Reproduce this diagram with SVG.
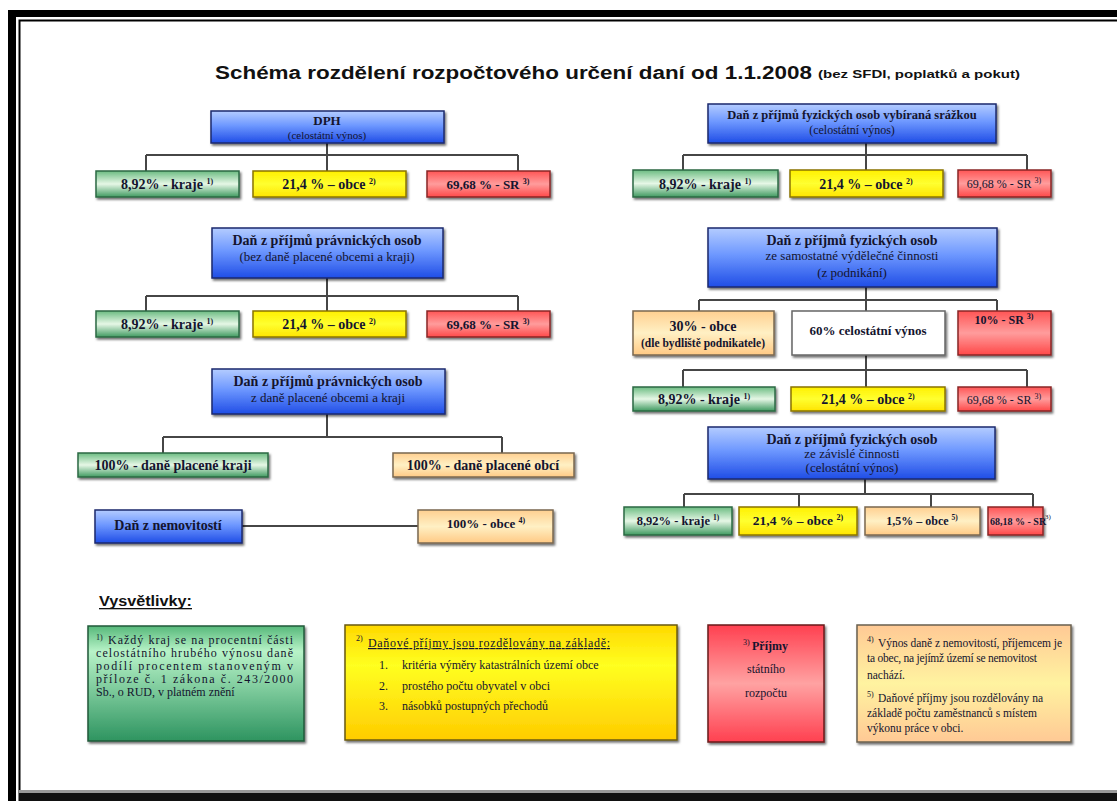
<svg xmlns="http://www.w3.org/2000/svg" width="1117" height="801" viewBox="0 0 1117 801">
<style>
.t{font-family:"Liberation Serif","Times New Roman",serif;fill:#14142e}
.b{font-weight:bold}
.m{text-anchor:middle}
.h{font-family:"Liberation Sans",Arial,sans-serif;font-weight:bold;fill:#111}
.cn{fill:none;stroke:#464646;stroke-width:2}
.blue{fill:url(#gBlue);stroke:#1b2a6e;stroke-width:1.5}
.green{fill:url(#gGreen);stroke:#2b6a44;stroke-width:1.5}
.yel{fill:url(#gYel);stroke:#8a7400;stroke-width:1.5}
.red{fill:url(#gRed);stroke:#8a2626;stroke-width:1.5}
.org{fill:url(#gOrg);stroke:#7a6850;stroke-width:1.5}
.wht{fill:#fff;stroke:#666;stroke-width:1.5}
.sh{filter:url(#ds)}
</style>
<defs>
<filter id="ds" x="-10%" y="-20%" width="125%" height="150%"><feDropShadow dx="1.5" dy="2" stdDeviation="0.8" flood-color="#000" flood-opacity="0.55"/></filter>
<linearGradient id="gBlue" x1="0" y1="0" x2="0" y2="1"><stop offset="0" stop-color="#b4ccff"/><stop offset="0.45" stop-color="#6e98ff"/><stop offset="1" stop-color="#1f4de6"/></linearGradient>
<linearGradient id="gGreen" x1="0" y1="0" x2="0" y2="1"><stop offset="0" stop-color="#6cbc82"/><stop offset="0.5" stop-color="#e6f7e6"/><stop offset="1" stop-color="#3f9a60"/></linearGradient>
<linearGradient id="gYel" x1="0" y1="0" x2="0" y2="1"><stop offset="0" stop-color="#fff000"/><stop offset="0.5" stop-color="#ffff30"/><stop offset="1" stop-color="#ffe400"/></linearGradient>
<linearGradient id="gRed" x1="0" y1="0" x2="0" y2="1"><stop offset="0" stop-color="#ff5555"/><stop offset="0.5" stop-color="#ff9c9c"/><stop offset="1" stop-color="#ff4848"/></linearGradient>
<linearGradient id="gOrg" x1="0" y1="0" x2="0" y2="1"><stop offset="0" stop-color="#ffcf90"/><stop offset="0.5" stop-color="#fff0c4"/><stop offset="1" stop-color="#ffc984"/></linearGradient>
<linearGradient id="lGreen" x1="0" y1="0" x2="0" y2="1"><stop offset="0" stop-color="#56b87a"/><stop offset="0.22" stop-color="#b8f3c8"/><stop offset="1" stop-color="#2e9460"/></linearGradient>
<linearGradient id="lYel" x1="0" y1="0" x2="0" y2="1"><stop offset="0" stop-color="#ffd800"/><stop offset="0.35" stop-color="#ffff20"/><stop offset="1" stop-color="#ffcc00"/></linearGradient>
<linearGradient id="lRed" x1="0" y1="0" x2="0" y2="1"><stop offset="0" stop-color="#ff4050"/><stop offset="0.5" stop-color="#ffa2a2"/><stop offset="1" stop-color="#ff4050"/></linearGradient>
<linearGradient id="lOrg" x1="0" y1="0" x2="0" y2="1"><stop offset="0" stop-color="#ffc995"/><stop offset="0.5" stop-color="#fff3a0"/><stop offset="1" stop-color="#ffc995"/></linearGradient>
</defs>

<rect width="1117" height="801" fill="#fff"/>
<g id="frame">
<rect x="8" y="10" width="1109" height="7" fill="#000"/>
<rect x="8" y="10" width="8" height="791" fill="#000"/>
<path d="M19.5 801 V20.5 H1117" fill="none" stroke="#000" stroke-width="2"/>
<rect x="19" y="790" width="1098" height="3" fill="#999"/>
<rect x="19" y="793" width="1098" height="8" fill="#111"/>
</g>

<g id="title">
<text class="h" x="215" y="79" font-size="18" textLength="597" lengthAdjust="spacingAndGlyphs">Schéma rozdělení rozpočtového určení daní od 1.1.2008</text>
<text class="h" x="818" y="78" font-size="10" font-weight="normal" textLength="202" lengthAdjust="spacingAndGlyphs">(bez SFDI, poplatků a pokut)</text>
</g>

<g id="connectors">
<path class="cn" d="M327 143V155M146 155H518M146 155V171M327 155V171M518 155V171"/>
<path class="cn" d="M866 143V155M683 155H1027M683 155V170M866 155V170M1027 155V170"/>
<path class="cn" d="M327 278V296M146 296H518M146 296V311M327 296V311M518 296V311"/>
<path class="cn" d="M866 287V300M699 300H997M699 300V311M866 300V311M997 300V311"/>
<path class="cn" d="M866 355V370M683 370H1027M683 370V387M866 370V387M1027 370V387"/>
<path class="cn" d="M327 414V437M163 437H502M163 437V453M502 437V453"/>
<path class="cn" d="M242 526H418"/>
<path class="cn" d="M865 479V494M684 494H1033M684 494V507M799 494V507M931 494V507M1033 494V507"/>
</g>

<g id="dph">
<rect class="blue sh" x="211" y="111" width="233" height="32"/>
<text class="t b m" x="327" y="125" font-size="13">DPH</text>
<text class="t m" x="327" y="139" font-size="11">(celostátní výnos)</text>
</g>
<g id="dph-kraje"><rect class="green sh" x="96" y="171" width="143" height="26"/>
<text class="t b m" x="167" y="189" font-size="14">8,92% - kraje <tspan font-size="8" dy="-5">1)</tspan></text></g>
<g id="dph-obce"><rect class="yel sh" x="253" y="171" width="153" height="26"/>
<text class="t b m" x="329" y="189" font-size="14">21,4 % – obce <tspan font-size="8" dy="-5">2)</tspan></text></g>
<g id="dph-sr"><rect class="red sh" x="427" y="171" width="123" height="26"/>
<text class="t b m" x="488" y="189" font-size="13">69,68 % - SR <tspan font-size="8" dy="-5">3)</tspan></text></g>

<g id="fo-srazka">
<rect class="blue sh" x="708" y="104" width="288" height="39"/>
<text class="t b m" x="852" y="119" font-size="12.5">Daň z příjmů fyzických osob vybíraná srážkou</text>
<text class="t m" x="852" y="134" font-size="12">(celostátní výnos)</text>
</g>
<g id="fos-kraje"><rect class="green sh" x="633" y="170" width="145" height="27"/>
<text class="t b m" x="705" y="189" font-size="14">8,92% - kraje <tspan font-size="8" dy="-5">1)</tspan></text></g>
<g id="fos-obce"><rect class="yel sh" x="790" y="170" width="153" height="27"/>
<text class="t b m" x="866" y="189" font-size="14">21,4 % – obce <tspan font-size="8" dy="-5">2)</tspan></text></g>
<g id="fos-sr"><rect class="red sh" x="958" y="170" width="93" height="27"/>
<text class="t m" x="1004" y="188" font-size="12">69,68 % - SR <tspan font-size="8" dy="-5">3)</tspan></text></g>

<g id="po-bez">
<rect class="blue sh" x="212" y="228" width="231" height="50"/>
<text class="t b m" x="327" y="245" font-size="14">Daň z příjmů právnických osob</text>
<text class="t m" x="327" y="261" font-size="13">(bez daně placené obcemi a kraji)</text>
</g>
<g id="po-kraje"><rect class="green sh" x="96" y="311" width="143" height="26"/>
<text class="t b m" x="167" y="329" font-size="14">8,92% - kraje <tspan font-size="8" dy="-5">1)</tspan></text></g>
<g id="po-obce"><rect class="yel sh" x="253" y="311" width="153" height="26"/>
<text class="t b m" x="329" y="329" font-size="14">21,4 % – obce <tspan font-size="8" dy="-5">2)</tspan></text></g>
<g id="po-sr"><rect class="red sh" x="427" y="311" width="123" height="26"/>
<text class="t b m" x="488" y="329" font-size="13">69,68 % - SR <tspan font-size="8" dy="-5">3)</tspan></text></g>

<g id="fo-osvc">
<rect class="blue sh" x="708" y="228" width="289" height="59"/>
<text class="t b m" x="852" y="245" font-size="14">Daň z příjmů fyzických osob</text>
<text class="t m" x="852" y="260" font-size="13">ze samostatné výdělečné činnosti</text>
<text class="t m" x="852" y="277" font-size="13">(z podnikání)</text>
</g>
<g id="osvc-obce"><rect class="org sh" x="633" y="311" width="141" height="44"/>
<text class="t b m" x="703" y="331" font-size="14">30% - obce</text>
<text class="t b m" x="703" y="347" font-size="11.5">(dle bydliště podnikatele)</text></g>
<g id="osvc-celo"><rect class="wht sh" x="792" y="311" width="153" height="44"/>
<text class="t b m" x="868" y="335" font-size="13">60% celostátní výnos</text></g>
<g id="osvc-sr"><rect class="red sh" x="958" y="311" width="93" height="44"/>
<text class="t b m" x="1004" y="324" font-size="12">10% - SR <tspan font-size="8" dy="-5">3)</tspan></text></g>
<g id="osvc-kraje"><rect class="green sh" x="633" y="387" width="142" height="24"/>
<text class="t b m" x="704" y="404" font-size="14">8,92% - kraje <tspan font-size="8" dy="-5">1)</tspan></text></g>
<g id="osvc-obce2"><rect class="yel sh" x="791" y="387" width="154" height="24"/>
<text class="t b m" x="868" y="404" font-size="14">21,4 % – obce <tspan font-size="8" dy="-5">2)</tspan></text></g>
<g id="osvc-sr2"><rect class="red sh" x="958" y="387" width="93" height="24"/>
<text class="t m" x="1004" y="404" font-size="12">69,68 % - SR <tspan font-size="8" dy="-5">3)</tspan></text></g>

<g id="po-obce-kraje">
<rect class="blue sh" x="212" y="369" width="233" height="45"/>
<text class="t b m" x="328" y="386" font-size="14">Daň z příjmů právnických osob</text>
<text class="t m" x="328" y="402" font-size="13">z daně placené obcemi a kraji</text>
</g>
<g id="po-kraji"><rect class="green sh" x="78" y="453" width="190" height="24"/>
<text class="t b m" x="173" y="470" font-size="14">100% - daně placené kraji</text></g>
<g id="po-obci"><rect class="org sh" x="393" y="453" width="181" height="24"/>
<text class="t b m" x="483" y="470" font-size="14">100% - daně placené obcí</text></g>

<g id="nemovitosti"><rect class="blue sh" x="95" y="510" width="147" height="33"/>
<text class="t b m" x="168" y="530" font-size="14">Daň z nemovitostí</text></g>
<g id="nem-obce"><rect class="org sh" x="418" y="510" width="135" height="33"/>
<text class="t b m" x="486" y="528" font-size="13">100% - obce <tspan font-size="8" dy="-5">4)</tspan></text></g>

<g id="fo-zavisla">
<rect class="blue sh" x="708" y="427" width="287" height="52"/>
<text class="t b m" x="852" y="444" font-size="14">Daň z příjmů fyzických osob</text>
<text class="t m" x="852" y="458" font-size="13">ze závislé činnosti</text>
<text class="t m" x="852" y="472" font-size="13">(celostátní výnos)</text>
</g>
<g id="zc-kraje"><rect class="green sh" x="624" y="507" width="108" height="28"/>
<text class="t b m" x="678" y="525" font-size="12.5">8,92% - kraje <tspan font-size="7.5" dy="-5">1)</tspan></text></g>
<g id="zc-obce"><rect class="yel sh" x="739" y="507" width="118" height="28"/>
<text class="t b m" x="798" y="525" font-size="13.5">21,4 % – obce <tspan font-size="8" dy="-5">2)</tspan></text></g>
<g id="zc-obce15"><rect class="org sh" x="865" y="507" width="115" height="28"/>
<text class="t b m" x="922" y="525" font-size="12">1,5% – obce <tspan font-size="7.5" dy="-5">5)</tspan></text></g>
<g id="zc-sr"><rect class="red sh" x="988" y="507" width="55" height="28"/>
<text class="t b" x="990" y="525" font-size="10">68,18 % - SR</text>
<text class="t" x="1045" y="519" font-size="7">3)</text></g>

<g id="legend-title">
<text class="h" x="99" y="606" font-size="14" textLength="93" lengthAdjust="spacingAndGlyphs">Vysvětlivky:</text>
<rect x="99" y="608" width="93" height="1.3" fill="#111"/>
</g>
<g id="legend-1">
<rect x="88" y="626" width="216" height="115" fill="url(#lGreen)" stroke="#1f5a3a" stroke-width="1.5" class="sh"/>
<text class="t" x="96" y="640" font-size="8">1)</text>
<text class="t" x="108" y="644" font-size="12" textLength="185" lengthAdjust="spacing">Každý kraj se na procentní části</text>
<text class="t" x="96" y="657" font-size="12" textLength="197" lengthAdjust="spacing">celostátního hrubého výnosu daně</text>
<text class="t" x="96" y="670" font-size="12" textLength="197" lengthAdjust="spacing">podílí procentem stanoveným v</text>
<text class="t" x="96" y="683" font-size="12" textLength="197" lengthAdjust="spacing">příloze č. 1 zákona č. 243/2000</text>
<text class="t" x="96" y="696" font-size="12">Sb., o RUD, v platném znění</text>
</g>
<g id="legend-2">
<rect x="345" y="625" width="332" height="115" fill="url(#lYel)" stroke="#6a5a10" stroke-width="1.5" class="sh"/>
<text class="t" x="356" y="641" font-size="8">2)</text>
<text class="t" x="368" y="647" font-size="12" textLength="242" lengthAdjust="spacing" text-decoration="underline">Daňové příjmy jsou rozdělovány na základě:</text>
<text class="t" x="379" y="669" font-size="12">1.</text>
<text class="t" x="402" y="669" font-size="12">kritéria výměry katastrálních území obce</text>
<text class="t" x="379" y="690" font-size="12">2.</text>
<text class="t" x="402" y="690" font-size="12">prostého počtu obyvatel v obci</text>
<text class="t" x="379" y="710" font-size="12">3.</text>
<text class="t" x="402" y="710" font-size="12">násobků postupných přechodů</text>
</g>
<g id="legend-3">
<rect x="708" y="625" width="116" height="117" fill="url(#lRed)" stroke="#6a1a1a" stroke-width="1.5" class="sh"/>
<text class="t" x="743" y="645" font-size="8">3)</text>
<text class="t b" x="752" y="650" font-size="12">Příjmy</text>
<text class="t m" x="766" y="673" font-size="12">státního</text>
<text class="t m" x="766" y="697" font-size="12">rozpočtu</text>
</g>
<g id="legend-4">
<rect x="857" y="625" width="214" height="117" fill="url(#lOrg)" stroke="#6a6050" stroke-width="1.5" class="sh"/>
<text class="t" x="867" y="642" font-size="8">4)</text>
<text class="t" x="878" y="647" font-size="11.5" textLength="184" lengthAdjust="spacing">Výnos daně z nemovitostí, příjemcem je</text>
<text class="t" x="867" y="662" font-size="11.5" textLength="170" lengthAdjust="spacing">ta obec, na jejímž území se nemovitost</text>
<text class="t" x="867" y="679" font-size="11.5">nachází.</text>
<text class="t" x="867" y="697" font-size="8">5)</text>
<text class="t" x="878" y="702" font-size="11.5" textLength="165" lengthAdjust="spacing">Daňové příjmy jsou rozdělovány na</text>
<text class="t" x="867" y="717" font-size="11.5" textLength="170" lengthAdjust="spacing">základě počtu zaměstnanců s místem</text>
<text class="t" x="867" y="732" font-size="11.5">výkonu práce v obci.</text>
</g>
</svg>
